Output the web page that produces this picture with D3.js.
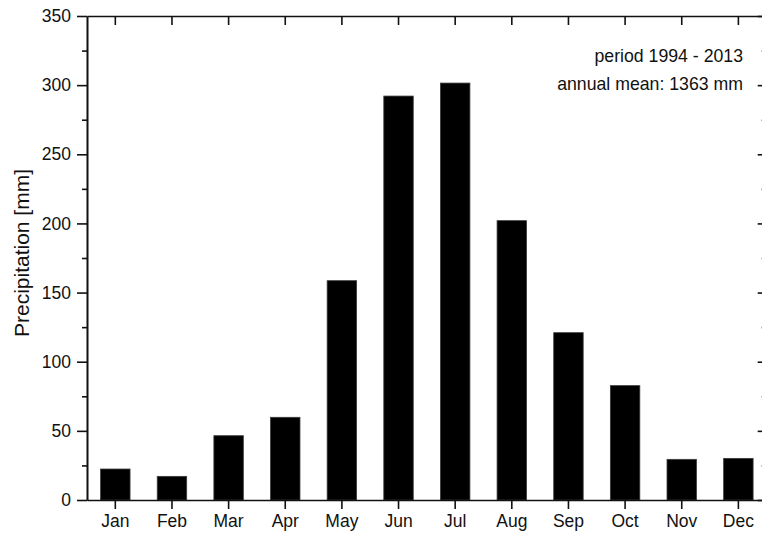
<!DOCTYPE html>
<html>
<head>
<meta charset="utf-8">
<script src="https://cdn.jsdelivr.net/npm/d3@7"></script>
<style>
  html, body { margin: 0; padding: 0; background: #fff; }
  svg { display: block; }
  text { font-family: "Liberation Sans", Arial, sans-serif; fill: #111; }
</style>
</head>
<body>
<svg id="chart" width="762" height="536"></svg>
<script>
// Monthly mean precipitation, 1994 - 2013
const months = ["Jan", "Feb", "Mar", "Apr", "May", "Jun", "Jul", "Aug", "Sep", "Oct", "Nov", "Dec"];
const precipitation = [22.4, 17.1, 46.5, 59.8, 158.6, 292.1, 301.5, 202.0, 121.0, 82.7, 29.4, 30.1];
const majorTicks = [0, 50, 100, 150, 200, 250, 300, 350];
const minorTicks = [25, 75, 125, 175, 225, 275, 325];
const yLabel = "Precipitation [mm]";
const noteLines = ["period 1994 - 2013", "annual mean: 1363 mm"];

const svg = d3.select("#chart");
const plot = { left: 87, right: 766.7, top: 16, bottom: 500 };
const axisColor = "#111";
const fontSize = "17.5px";

const x = d3.scaleBand().domain(months).range([plot.left, plot.right])
  .paddingInner(0.48).paddingOuter(0.24);
const y = d3.scaleLinear().domain([0, 350]).range([plot.bottom, plot.top]);

// bars
svg.append("g").selectAll("rect")
  .data(months.map((m, i) => ({ m, v: precipitation[i] })))
  .join("rect")
  .attr("x", d => x(d.m))
  .attr("width", x.bandwidth())
  .attr("y", d => y(d.v))
  .attr("height", d => y(0) - y(d.v))
  .attr("fill", "#000")
  .attr("stroke", "#3a3a3a")
  .attr("stroke-width", 0.8);

function styleAxis(g, showLabels) {
  g.select(".domain").attr("stroke", axisColor).attr("stroke-width", 1.6);
  g.selectAll(".tick line").attr("stroke", axisColor).attr("stroke-width", 1.6);
  g.selectAll(".tick text")
    .style("font-size", fontSize)
    .attr("fill", "#111")
    .style("display", showLabels ? null : "none");
}

// left axis: minor ticks, then major ticks with labels
svg.append("g").attr("transform", `translate(${plot.left},0)`)
  .call(d3.axisLeft(y).tickValues(minorTicks).tickSize(5).tickSizeOuter(0).tickFormat(""))
  .call(g => styleAxis(g, false));
svg.append("g").attr("transform", `translate(${plot.left},0)`)
  .call(d3.axisLeft(y).tickValues(majorTicks).tickSize(10).tickPadding(6).tickSizeOuter(0))
  .call(g => styleAxis(g, true));

// right axis, ticks pointing inward
svg.append("g").attr("transform", `translate(${plot.right},0)`)
  .call(d3.axisRight(y).tickValues(minorTicks).tickSize(-5).tickSizeOuter(0).tickFormat(""))
  .call(g => styleAxis(g, false));
svg.append("g").attr("transform", `translate(${plot.right},0)`)
  .call(d3.axisRight(y).tickValues(majorTicks).tickSize(-9).tickSizeOuter(0).tickFormat(""))
  .call(g => styleAxis(g, false));

// bottom axis with month labels
svg.append("g").attr("transform", `translate(0,${plot.bottom})`)
  .call(d3.axisBottom(x).tickSize(9).tickPadding(6).tickSizeOuter(0))
  .call(g => styleAxis(g, true));

// top axis, ticks pointing inward
svg.append("g").attr("transform", `translate(0,${plot.top})`)
  .call(d3.axisTop(x).tickSize(-9).tickSizeOuter(0).tickFormat(""))
  .call(g => styleAxis(g, false));

// y axis title
svg.append("text")
  .attr("transform", `translate(29,253) rotate(-90)`)
  .attr("text-anchor", "middle")
  .style("font-size", "21px")
  .text(yLabel);

// annotation
svg.append("g").selectAll("text")
  .data(noteLines)
  .join("text")
  .attr("x", 743)
  .attr("y", (d, i) => 61.5 + i * 28.5)
  .attr("text-anchor", "end")
  .style("font-size", "17.7px")
  .text(d => d);
</script>
</body>
</html>
